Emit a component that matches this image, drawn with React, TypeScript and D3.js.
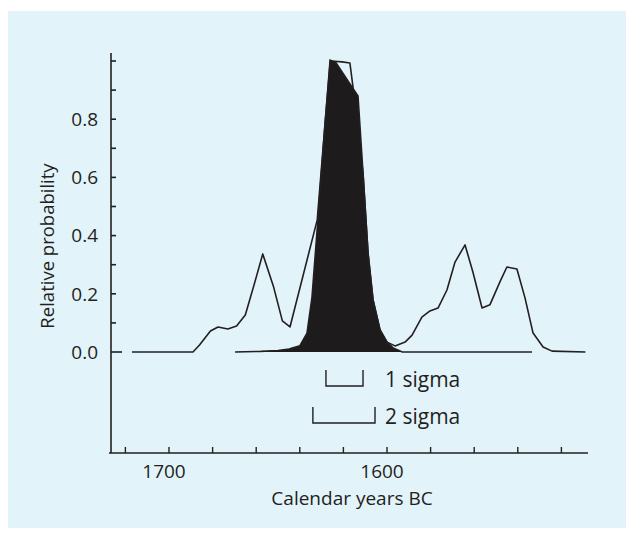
import React, { useEffect, useRef } from "react";
import * as d3 from "d3";

// calibrated probability (outline), years BC
const outlineYears = [
  1717, 1689, 1686, 1681, 1677.5, 1673, 1669, 1665, 1661, 1657, 1652, 1648,
  1644.5, 1632, 1628.4, 1626, 1620.6, 1617, 1615.6, 1611, 1608.7, 1606.4,
  1603.2, 1600, 1596.3, 1591.7, 1588.5, 1584, 1580.3, 1576.6, 1572.5, 1568.8,
  1564.2, 1560.6, 1556.4, 1552.8, 1548.2, 1545, 1540.4, 1536.7, 1533, 1528.4,
  1524.3, 1509,
];
const outlineProb = [
  0, 0, 0.024, 0.072, 0.086, 0.079, 0.089, 0.127, 0.23, 0.337, 0.223, 0.107,
  0.086, 0.454, 0.787, 1.0, 0.997, 0.993, 0.91, 0.615, 0.34, 0.179, 0.076,
  0.034, 0.021, 0.034, 0.058, 0.12, 0.141, 0.151, 0.213, 0.309, 0.368, 0.275,
  0.151, 0.162, 0.241, 0.292, 0.285, 0.186, 0.065, 0.017, 0.003, 0,
];

// posterior (filled)
const filledYears = [
  1669.7, 1658, 1650, 1645, 1640, 1636.7, 1634.4, 1631.7, 1628.4, 1626.1,
  1623.5, 1616, 1613.3, 1611, 1608.7, 1606.4, 1603.2, 1600, 1597.2, 1593,
  1533.5,
];
const filledProb = [
  0, 0.002, 0.005, 0.01, 0.021, 0.065, 0.189, 0.454, 0.787, 1.003, 0.995,
  0.91, 0.88, 0.615, 0.34, 0.179, 0.076, 0.034, 0.014, 0, 0,
];

const sigmaLabels = ["1 sigma", "2 sigma"];
const sigmaFrom = [1628, 1634];
const sigmaTo = [1611, 1605.5];

const yTicks = [0, 0.1, 0.2, 0.3, 0.4, 0.5, 0.6, 0.7, 0.8, 0.9, 1.0];
const yLabelled = [0, 0.2, 0.4, 0.6, 0.8];
const xTicks = [1720, 1700, 1680, 1660, 1640, 1620, 1600, 1580, 1560, 1540, 1520];
const xLabelled = [1700, 1600];

const ink = "#231f20";
const font = "'Open Sans', sans-serif";

const App: React.FC = () => {
  const svgRef = useRef<SVGSVGElement>(null);

  useEffect(() => {
    if (!svgRef.current) return;
    const width = 626;
    const height = 533;

    const x = d3.scaleLinear().domain([1700, 1600]).range([169, 387]);
    const y = d3.scaleLinear().domain([0, 1]).range([352, 61]);

    const svg = d3.select(svgRef.current).attr("width", width).attr("height", height);
    svg.selectAll("*").remove();

    // scanned page background
    svg.append("rect").attr("width", width).attr("height", height).attr("fill", "#ffffff");
    svg
      .append("rect")
      .attr("x", 8)
      .attr("y", 11)
      .attr("width", width - 8)
      .attr("height", 517)
      .attr("fill", "#e2f3fa");

    const outline = outlineYears.map((yr, i) => ({ yr, p: outlineProb[i] }));
    const filled = filledYears.map((yr, i) => ({ yr, p: filledProb[i] }));

    const area = d3
      .area<{ yr: number; p: number }>()
      .x((d) => x(d.yr))
      .y0(y(0))
      .y1((d) => y(d.p));
    const line = d3
      .line<{ yr: number; p: number }>()
      .x((d) => x(d.yr))
      .y((d) => y(d.p));

    svg
      .append("path")
      .datum(outline)
      .attr("fill", "none")
      .attr("stroke", ink)
      .attr("stroke-width", 1.6)
      .attr("stroke-linejoin", "round")
      .attr("d", line);

    svg.append("path").datum(filled).attr("fill", "#1e1b1c").attr("d", area);
    svg
      .append("path")
      .datum(filled)
      .attr("fill", "none")
      .attr("stroke", ink)
      .attr("stroke-width", 1.6)
      .attr("d", line);

    // y axis
    const yAxis = svg.append("g").attr("transform", "translate(111,0)");
    yAxis
      .append("line")
      .attr("y1", 53)
      .attr("y2", 453)
      .attr("stroke", ink)
      .attr("stroke-width", 1.6);
    yAxis
      .selectAll("line.tick")
      .data(yTicks)
      .join("line")
      .attr("class", "tick")
      .attr("x1", 0)
      .attr("x2", (d) => (d === 0 ? 11 : 5))
      .attr("y1", (d) => y(d))
      .attr("y2", (d) => y(d))
      .attr("stroke", ink)
      .attr("stroke-width", 1.6);
    yAxis
      .selectAll("text")
      .data(yLabelled)
      .join("text")
      .attr("x", -13)
      .attr("y", (d) => y(d))
      .attr("dy", "0.36em")
      .attr("text-anchor", "end")
      .attr("font-family", font)
      .attr("font-size", 19)
      .attr("fill", ink)
      .text((d) => d3.format(".1f")(d));

    // x axis
    const xAxis = svg.append("g").attr("transform", "translate(0,453)");
    xAxis
      .append("line")
      .attr("x1", 109)
      .attr("x2", 588)
      .attr("stroke", ink)
      .attr("stroke-width", 1.6);
    xAxis
      .selectAll("line.tick")
      .data(xTicks)
      .join("line")
      .attr("class", "tick")
      .attr("x1", (d) => x(d))
      .attr("x2", (d) => x(d))
      .attr("y1", 0)
      .attr("y2", -6)
      .attr("stroke", ink)
      .attr("stroke-width", 1.4);
    xAxis
      .selectAll("text")
      .data(xLabelled)
      .join("text")
      .attr("x", (d) => x(d) - 5)
      .attr("y", 25)
      .attr("text-anchor", "middle")
      .attr("font-family", font)
      .attr("font-size", 19)
      .attr("fill", ink)
      .text((d) => String(d));

    // axis titles
    svg
      .append("text")
      .attr("transform", "translate(54,246) rotate(-90)")
      .attr("text-anchor", "middle")
      .attr("font-family", font)
      .attr("font-size", 18.5)
      .attr("fill", ink)
      .text("Relative probability");
    svg
      .append("text")
      .attr("x", 352)
      .attr("y", 505)
      .attr("text-anchor", "middle")
      .attr("font-family", font)
      .attr("font-size", 19)
      .attr("fill", ink)
      .text("Calendar years BC");

    // sigma ranges
    const rowTop = [370, 407];
    sigmaLabels.forEach((label, i) => {
      const x0 = x(sigmaFrom[i]);
      const x1 = x(sigmaTo[i]);
      const t = rowTop[i];
      svg
        .append("path")
        .attr("d", `M${x0},${t}V${t + 16}H${x1}V${t}`)
        .attr("fill", "none")
        .attr("stroke", ink)
        .attr("stroke-width", 1.4);
      svg
        .append("text")
        .attr("x", x(1600) - 2)
        .attr("y", t + 17)
        .attr("font-family", font)
        .attr("font-size", 21)
        .attr("fill", ink)
        .text(label);
    });
  }, []);

  return <svg ref={svgRef} style={{ position: "absolute", left: 0, top: 0 }}></svg>;
};

export default App;
